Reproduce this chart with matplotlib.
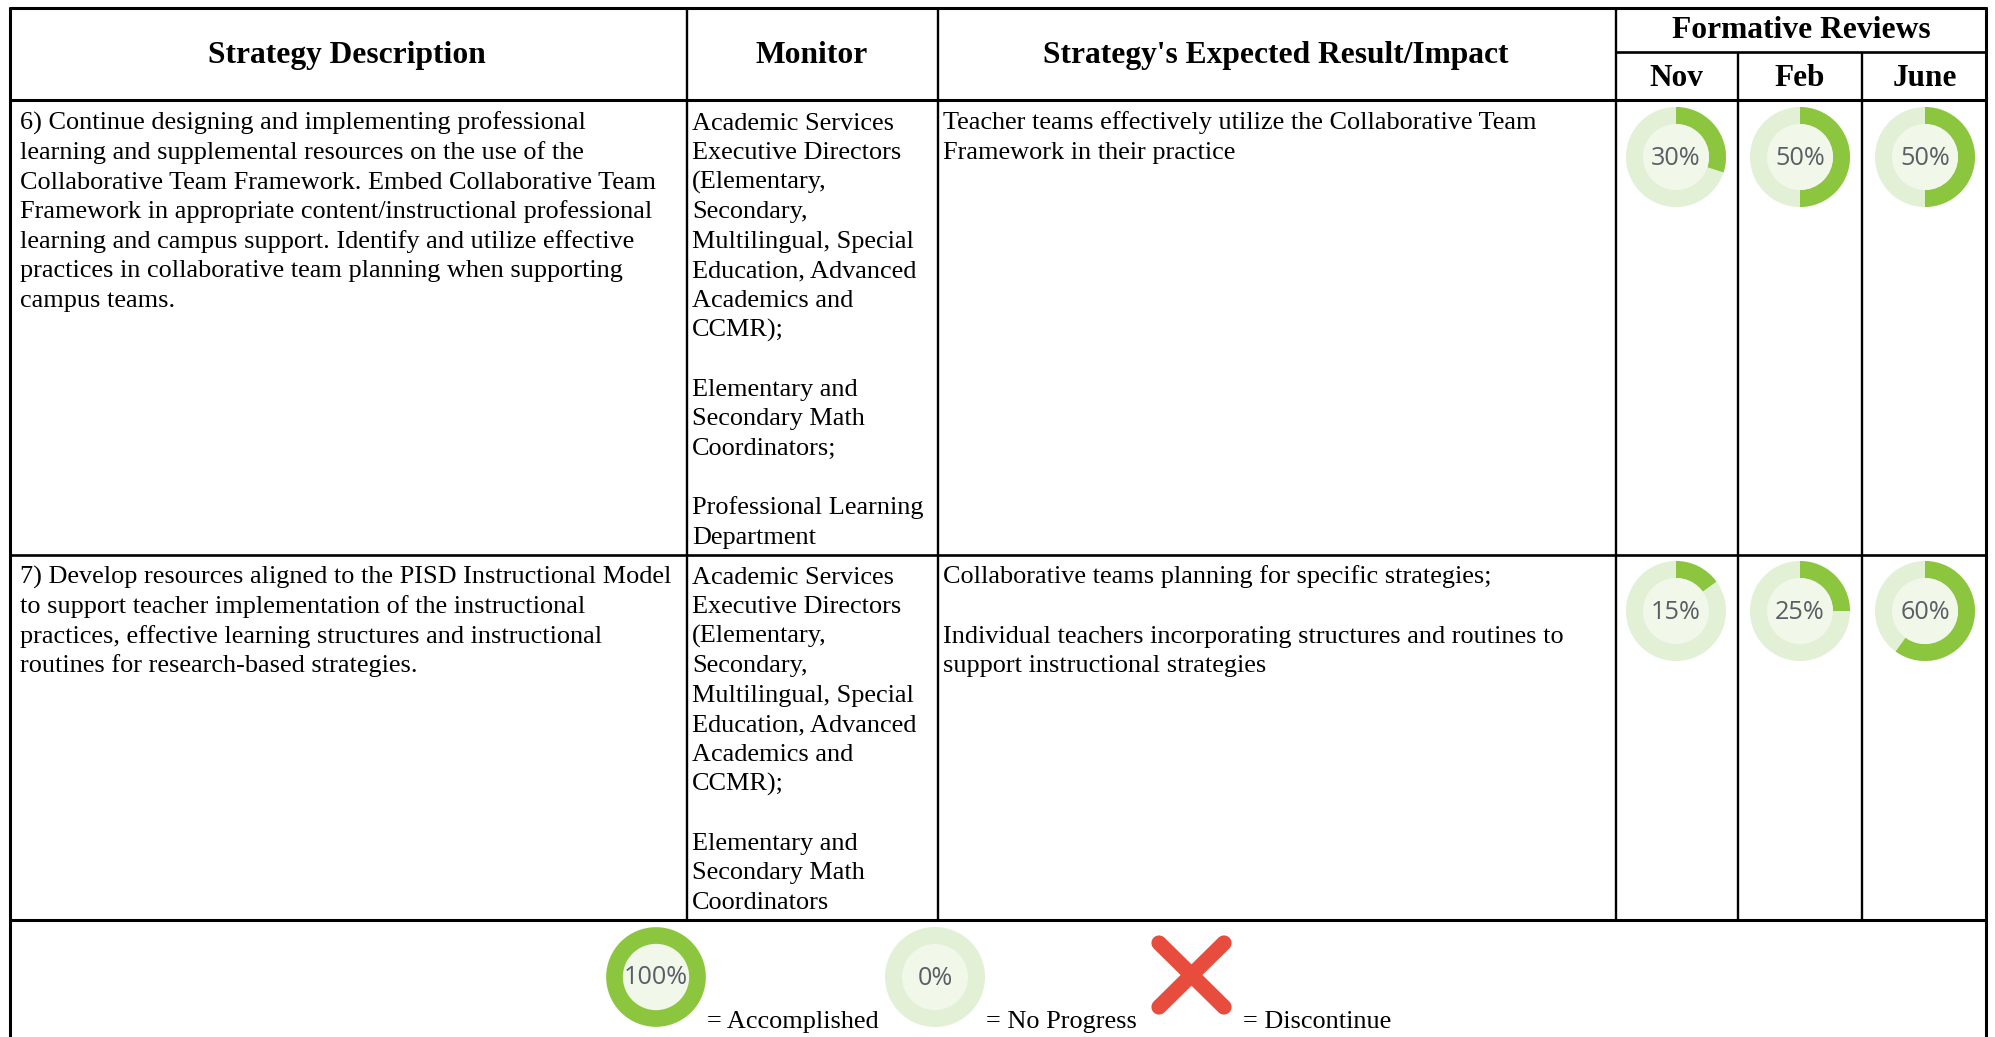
import matplotlib
matplotlib.use("Agg")
import matplotlib.pyplot as plt
from matplotlib.patches import Wedge, Circle

# table text
headers = ["Strategy Description", "Monitor", "Strategy's Expected Result/Impact"]
review_title = "Formative Reviews"
months = ["Nov", "Feb", "June"]

desc_6 = ["6) Continue designing and implementing professional",
          "learning and supplemental resources on the use of the",
          "Collaborative Team Framework. Embed Collaborative Team",
          "Framework in appropriate content/instructional professional",
          "learning and campus support. Identify and utilize effective",
          "practices in collaborative team planning when supporting",
          "campus teams."]
desc_7 = ["7) Develop resources aligned to the PISD Instructional Model",
          "to support teacher implementation of the instructional",
          "practices, effective learning structures and instructional",
          "routines for research-based strategies."]
monitor_6 = ["Academic Services", "Executive Directors", "(Elementary,", "Secondary,",
             "Multilingual, Special", "Education, Advanced", "Academics and", "CCMR);", "",
             "Elementary and", "Secondary Math", "Coordinators;", "",
             "Professional Learning", "Department"]
monitor_7 = ["Academic Services", "Executive Directors", "(Elementary,", "Secondary,",
             "Multilingual, Special", "Education, Advanced", "Academics and", "CCMR);", "",
             "Elementary and", "Secondary Math", "Coordinators"]
impact_6 = ["Teacher teams effectively utilize the Collaborative Team",
            "Framework in their practice"]
impact_7 = ["Collaborative teams planning for specific strategies;", "",
            "Individual teachers incorporating structures and routines to",
            "support instructional strategies"]

# review percentages per row
reviews_6 = [30, 50, 50]
reviews_7 = [15, 25, 60]

GREEN = "#8bc63e"
LIGHT = "#e2f0d5"
INNER = "#f1f8ea"
SERIF = "Liberation Serif"
LINE_H = 29.6
BODY = 18.92
PCT = 18.2

fig = plt.figure(figsize=(19.95, 10.37), dpi=100)
ax = fig.add_axes([0, 0, 1, 1])
ax.set_xlim(0, 1995)
ax.set_ylim(1037, 0)
ax.axis("off")


def vline(x, y0, y1, lw=1.7):
    ax.plot([x, x], [y0, y1], color="black", lw=lw, solid_capstyle="butt")


def hline(y, x0, x1, lw=1.9):
    ax.plot([x0, x1], [y, y], color="black", lw=lw, solid_capstyle="butt")


def block(x, y, lines):
    for i, s in enumerate(lines):
        ax.text(x, y + i * LINE_H, s, family=SERIF, fontsize=BODY, color="black", va="baseline")


def donut(cx, cy, value):
    ax.add_patch(Circle((cx, cy), 50, fc=LIGHT, ec="none"))
    # y axis runs down, so positive angles go clockwise from the top
    ax.add_patch(Wedge((cx, cy), 50, -90, -90 + 3.6 * value, width=17, fc=GREEN, ec="none"))
    ax.add_patch(Circle((cx, cy), 33, fc=INNER, ec="none", zorder=3))
    ax.text(cx, cy + 1.5, f"{value}%", family="Open Sans", fontsize=PCT, color="#5a5f66",
            ha="center", va="center", zorder=4)


# grid
hline(8, 9, 1987, lw=2.2)
hline(52, 1616, 1987)
hline(100, 9, 1987, lw=2.2)
hline(555, 9, 1987)
hline(920, 9, 1987, lw=2.2)
vline(10, 7, 1037, lw=2.2)
vline(1986, 7, 1037, lw=2.2)
vline(687, 7, 920)
vline(938, 7, 920)
vline(1616, 7, 920)
vline(1738, 52, 920)
vline(1862, 52, 920)

# header
for x, s in zip([346.5, 811.5, 1276], headers):
    ax.text(x, 55.5, s, family=SERIF, weight="bold", fontsize=22.7, ha="center", va="center")
ax.text(1801, 31, review_title, family=SERIF, weight="bold", fontsize=22.7, ha="center", va="center")
col_x = [1676, 1800, 1925]
for x, s in zip(col_x, months):
    ax.text(x, 79, s, family=SERIF, weight="bold", fontsize=22.5, ha="center", va="center")

# rows
block(20, 129.5, desc_6)
block(692, 129.5, monitor_6)
block(943, 129.5, impact_6)
block(20, 583.5, desc_7)
block(692, 583.5, monitor_7)
block(943, 583.5, impact_7)
for x, v in zip(col_x, reviews_6):
    donut(x, 157, v)
for x, v in zip(col_x, reviews_7):
    donut(x, 611, v)

# legend
ax.add_patch(Circle((656, 977), 41.5, fc=INNER, ec=GREEN, lw=12))
ax.text(656, 978, "100%", family="Open Sans", fontsize=PCT, color="#5a5f66", ha="center", va="center")
donut(935, 977, 0)
ax.plot([1159, 1224], [943, 1007], color="#e84c3d", lw=11, solid_capstyle="round")
ax.plot([1224, 1159], [943, 1007], color="#e84c3d", lw=11, solid_capstyle="round")
for x, s in zip([707, 986, 1243], ["= Accomplished", "= No Progress", "= Discontinue"]):
    ax.text(x, 1028, s, family=SERIF, fontsize=BODY, va="baseline")

fig.savefig("out.png", dpi=100)
